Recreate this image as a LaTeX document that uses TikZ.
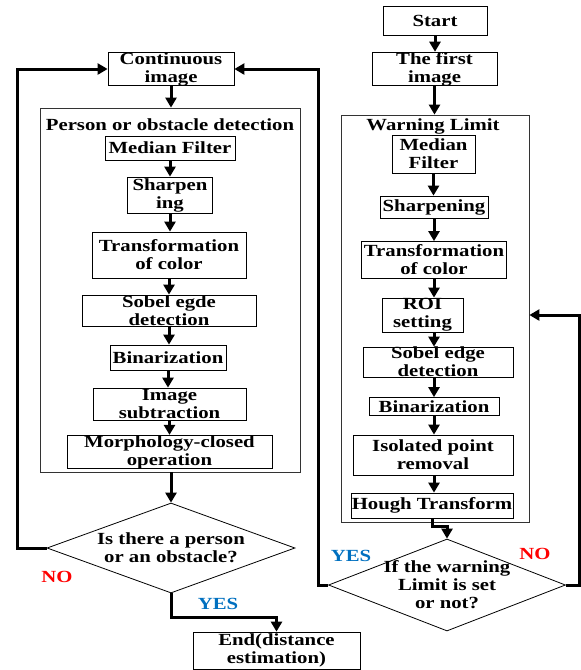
\documentclass[tikz,border=0pt]{standalone}
\usepackage{fontspec}
\setmainfont{Liberation Serif}[FakeStretch=1.22]
\usetikzlibrary{arrows.meta,shapes.geometric}
\definecolor{yesBlue}{RGB}{0,112,192}
\definecolor{noRed}{RGB}{255,0,0}

\begin{document}
\begin{tikzpicture}[
  x=1pt, y=-1pt,
  font=\fontsize{17}{18}\selectfont\bfseries,
  blk/.style={draw=black, line width=0.8pt, align=center, inner sep=0pt},
  frame/.style={draw=black!80, line width=0.8pt, inner sep=0pt},
  ttl/.style={inner sep=0pt, align=center},
  dec/.style={draw=black, line width=0.8pt, diamond, inner sep=0pt},
  yes/.style={text=yesBlue, inner sep=0pt},
  no/.style={text=noRed, inner sep=0pt},
  arrow/.style={-{Triangle[length=10pt, width=11pt]}, line width=3pt}
]
\useasboundingbox (0,0) rectangle (581,670);

\node[blk, minimum width=126, minimum height=32] (cont) at (171,69) {Continuous\\image};
\node[frame, minimum width=260, minimum height=364] (detect) at (170,290) {};
\node[ttl] (detectT) at (170,125) {Person or obstacle detection};
\node[blk, minimum width=130, minimum height=24] (medL) at (170,148) {Median Filter};
\node[blk, minimum width=85, minimum height=36] (sharpL) at (170,195) {Sharpen\\ing};
\node[blk, minimum width=154, minimum height=46] (transL) at (169,255) {Transformation\\of color};
\node[blk, minimum width=174, minimum height=31] (sobelL) at (169,310.5) {Sobel egde\\detection};
\node[blk, minimum width=116, minimum height=25] (binL) at (168,357.5) {Binarization};
\node[blk, minimum width=153, minimum height=32] (subL) at (169.5,404) {Image\\subtraction};
\node[blk, minimum width=205, minimum height=32] (morphL) at (169.5,452) {Morphology-closed\\operation};
\node[dec, minimum width=248, minimum height=90,
      label={[align=center]center:Is there a person\\or an obstacle?}] (decL) at (171,548) {};
\node[blk, minimum width=167, minimum height=37] (endN) at (276.5,650.5) {End(distance\\estimation)};

\node[blk, minimum width=104, minimum height=29] (start) at (435,20.5) {Start};
\node[blk, minimum width=125, minimum height=32] (first) at (434.5,69) {The first\\image};
\node[frame, minimum width=188, minimum height=407] (warn) at (435,318.5) {};
\node[ttl] (warnT) at (433,126) {Warning Limit};
\node[blk, minimum width=83, minimum height=38] (medR) at (433.5,154) {Median\\Filter};
\node[blk, minimum width=108, minimum height=22] (sharpR) at (434,207) {Sharpening};
\node[blk, minimum width=145, minimum height=37] (transR) at (434,260) {Transformation\\of color};
\node[blk, minimum width=81, minimum height=34] (roiR) at (422.5,315) {ROI\\setting};
\node[blk, minimum width=150, minimum height=30] (sobelR) at (438,362) {Sobel edge\\detection};
\node[blk, minimum width=130, minimum height=18] (binR) at (434,406.5) {Binarization};
\node[blk, minimum width=160, minimum height=40] (isoR) at (433,455) {Isolated point\\removal};
\node[blk, minimum width=162, minimum height=25] (houghR) at (432,505.5) {Hough Transform};
\node[dec, minimum width=237, minimum height=92,
      label={[align=center]center:If the warning\\Limit is set\\or not?}] (decR) at (447,585) {};

\node[no] (noL) at (57,577) {NO};
\node[yes] (yesL) at (218,604) {YES};
\node[yes] (yesR) at (351,556) {YES};
\node[no] (noR) at (535,554) {NO};

\coordinate (loopL) at (17,548);
\coordinate (loopR) at (318,585);
\coordinate (loopN) at (579,585);

\draw[arrow] (cont.south) -- (cont.south |- detect.north);
\draw[arrow] (medL.south) -- (medL.south |- sharpL.north);
\draw[arrow] (sharpL.south) -- (sharpL.south |- transL.north);
\draw[arrow] (transL.south) -- (transL.south |- sobelL.north);
\draw[arrow] (sobelL.south) -- (sobelL.south |- binL.north);
\draw[arrow] (binL.south) -- (binL.south |- subL.north);
\draw[arrow] (subL.south) -- (subL.south |- morphL.north);
\draw[arrow] (decL.north |- detect.south) -- (decL.north);
\draw[arrow] (decL.south) -- ++(0,24) -| (endN.north);
\draw[arrow] (decL.west) -- (loopL) |- (cont.west);
\draw[arrow] (decR.west) -- (loopR) |- (cont.east);

\draw[arrow] (start.south) -- (start.south |- first.north);
\draw[arrow] (first.south) -- (first.south |- warn.north);
\draw[arrow] (medR.south) -- (medR.south |- sharpR.north);
\draw[arrow] (sharpR.south) -- (sharpR.south |- transR.north);
\draw[arrow] (transR.south) -- (transR.south |- roiR.north);
\draw[arrow] (transR.south |- roiR.south) -- (transR.south |- sobelR.north);
\draw[arrow] (transR.south |- sobelR.south) -- (transR.south |- binR.north);
\draw[arrow] (transR.south |- binR.south) -- (transR.south |- isoR.north);
\draw[arrow] (transR.south |- isoR.south) -- (transR.south |- houghR.north);
\draw[arrow] (houghR.south) -- ++(0,8) -| (decR.north);
\draw[arrow] (decR.east) -- (loopN) |- (warn.east |- roiR.east);
\end{tikzpicture}
\end{document}
